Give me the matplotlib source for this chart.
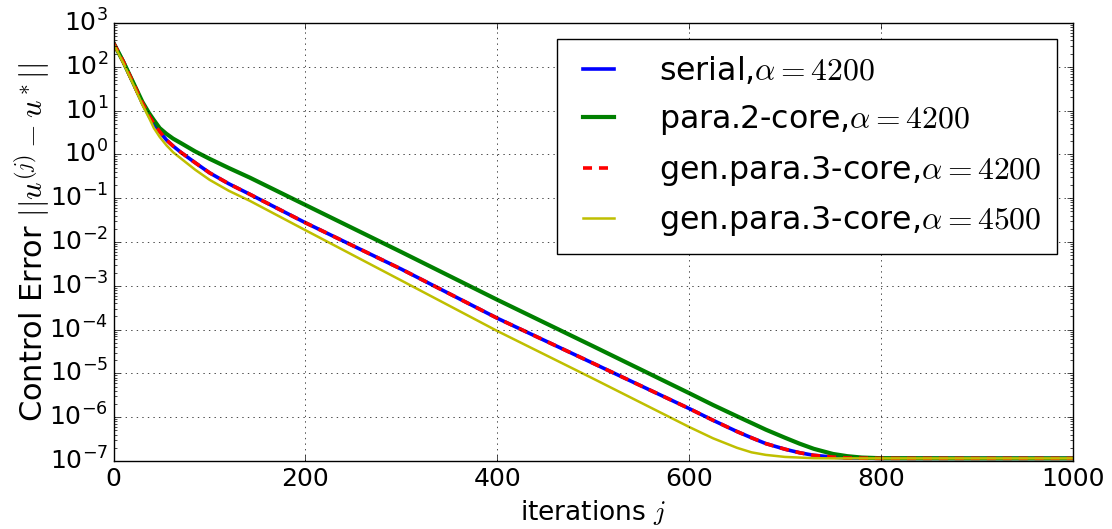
"""
控制误差收敛曲线
串行 / 2核并行 / 广义3核并行 的迭代误差对比
"""

import matplotlib
matplotlib.use('Agg')
import matplotlib.pyplot as plt

# 迭代步数
iters = [0, 10, 20, 30, 37, 42, 48, 55, 62, 70, 85, 100, 120, 142, 200,
         300, 400, 500, 600, 625, 650, 665, 680, 700, 715, 730, 750, 765,
         780, 800, 900, 1000]

# 串行, alpha=4200
serial_4200 = [347, 132, 44.7, 14.8, 7.59, 5.01, 3.31, 2.14, 1.55, 1.12,
               0.646, 0.380, 0.214, 0.123, 2.75e-2,
               2.4e-3, 1.82e-4, 1.7e-5, 1.58e-6, 8.5e-7, 4.7e-7, 3.4e-7,
               2.5e-7, 1.86e-7, 1.55e-7, 1.35e-7, 1.23e-7, 1.17e-7,
               1.16e-7, 1.15e-7, 1.15e-7, 1.15e-7]

# 2核并行, alpha=4200
para2_4200 = [347, 132, 45.7, 15.8, 8.71, 6.03, 3.98, 2.95, 2.29, 1.82,
              1.17, 0.794, 0.490, 0.295, 7.0e-2,
              5.9e-3, 4.8e-4, 4.17e-5, 3.55e-6, 1.9e-6, 1.05e-6, 7.4e-7,
              5.2e-7, 3.4e-7, 2.5e-7, 1.9e-7, 1.45e-7, 1.29e-7,
              1.2e-7, 1.16e-7, 1.15e-7, 1.15e-7]

# 广义3核并行, alpha=4200 (与串行结果一致)
gen3_4200 = [347, 132, 44.7, 14.8, 7.59, 5.01, 3.31, 2.14, 1.55, 1.12,
             0.646, 0.380, 0.214, 0.123, 2.75e-2,
             2.4e-3, 1.82e-4, 1.7e-5, 1.58e-6, 8.5e-7, 4.7e-7, 3.4e-7,
             2.5e-7, 1.86e-7, 1.55e-7, 1.35e-7, 1.23e-7, 1.17e-7,
             1.16e-7, 1.15e-7, 1.15e-7, 1.15e-7]

# 广义3核并行, alpha=4500
gen3_4500 = [331, 123, 41.7, 13.5, 6.76, 3.98, 2.51, 1.62, 1.12, 0.813,
             0.447, 0.263, 0.148, 0.0871, 1.86e-2,
             1.32e-3, 9.3e-5, 7.6e-6, 6.0e-7, 3.3e-7, 2.0e-7, 1.58e-7,
             1.38e-7, 1.24e-7, 1.2e-7, 1.16e-7, 1.15e-7, 1.15e-7,
             1.15e-7, 1.15e-7, 1.15e-7, 1.15e-7]

labels = [r'serial,$\alpha=4200$',
          r'para.2-core,$\alpha=4200$',
          r'gen.para.3-core,$\alpha=4200$',
          r'gen.para.3-core,$\alpha=4500$']


def plot_error():
    plt.style.use('classic')
    plt.rcParams['figure.facecolor'] = 'white'
    plt.rcParams['savefig.facecolor'] = 'white'
    plt.rcParams['mathtext.fontset'] = 'cm'

    fig = plt.figure(figsize=(11.12, 5.29), dpi=100)
    ax = fig.add_axes([0.1022, 0.1285, 0.8625, 0.828])

    ax.semilogy(iters, serial_4200, color='b', linewidth=2.6, label=labels[0])
    ax.semilogy(iters, para2_4200, color='g', linewidth=3.0, label=labels[1])
    ax.semilogy(iters, gen3_4200, color='r', linewidth=2.6, dashes=(6.5, 5),
                label=labels[2])
    ax.semilogy(iters, gen3_4500, color='y', linewidth=1.8, label=labels[3])

    ax.set_xlim(0, 1000)
    ax.set_ylim(1e-7, 1e3)
    ax.grid(True)

    ax.tick_params(axis='both', which='major', labelsize=18)
    ax.set_xlabel(r'iterations $j$', fontsize=19)
    ax.set_ylabel(r'Control Error $||u^{(j)}-u^*||$', fontsize=22,
                  labelpad=-2)

    ax.legend(loc='upper right', fontsize=22.8, handlelength=1.6,
              handletextpad=1.1, borderpad=0.5, labelspacing=0.52,
              borderaxespad=0.5)

    fig.savefig('out.png', dpi=100)


if __name__ == "__main__":
    plot_error()
